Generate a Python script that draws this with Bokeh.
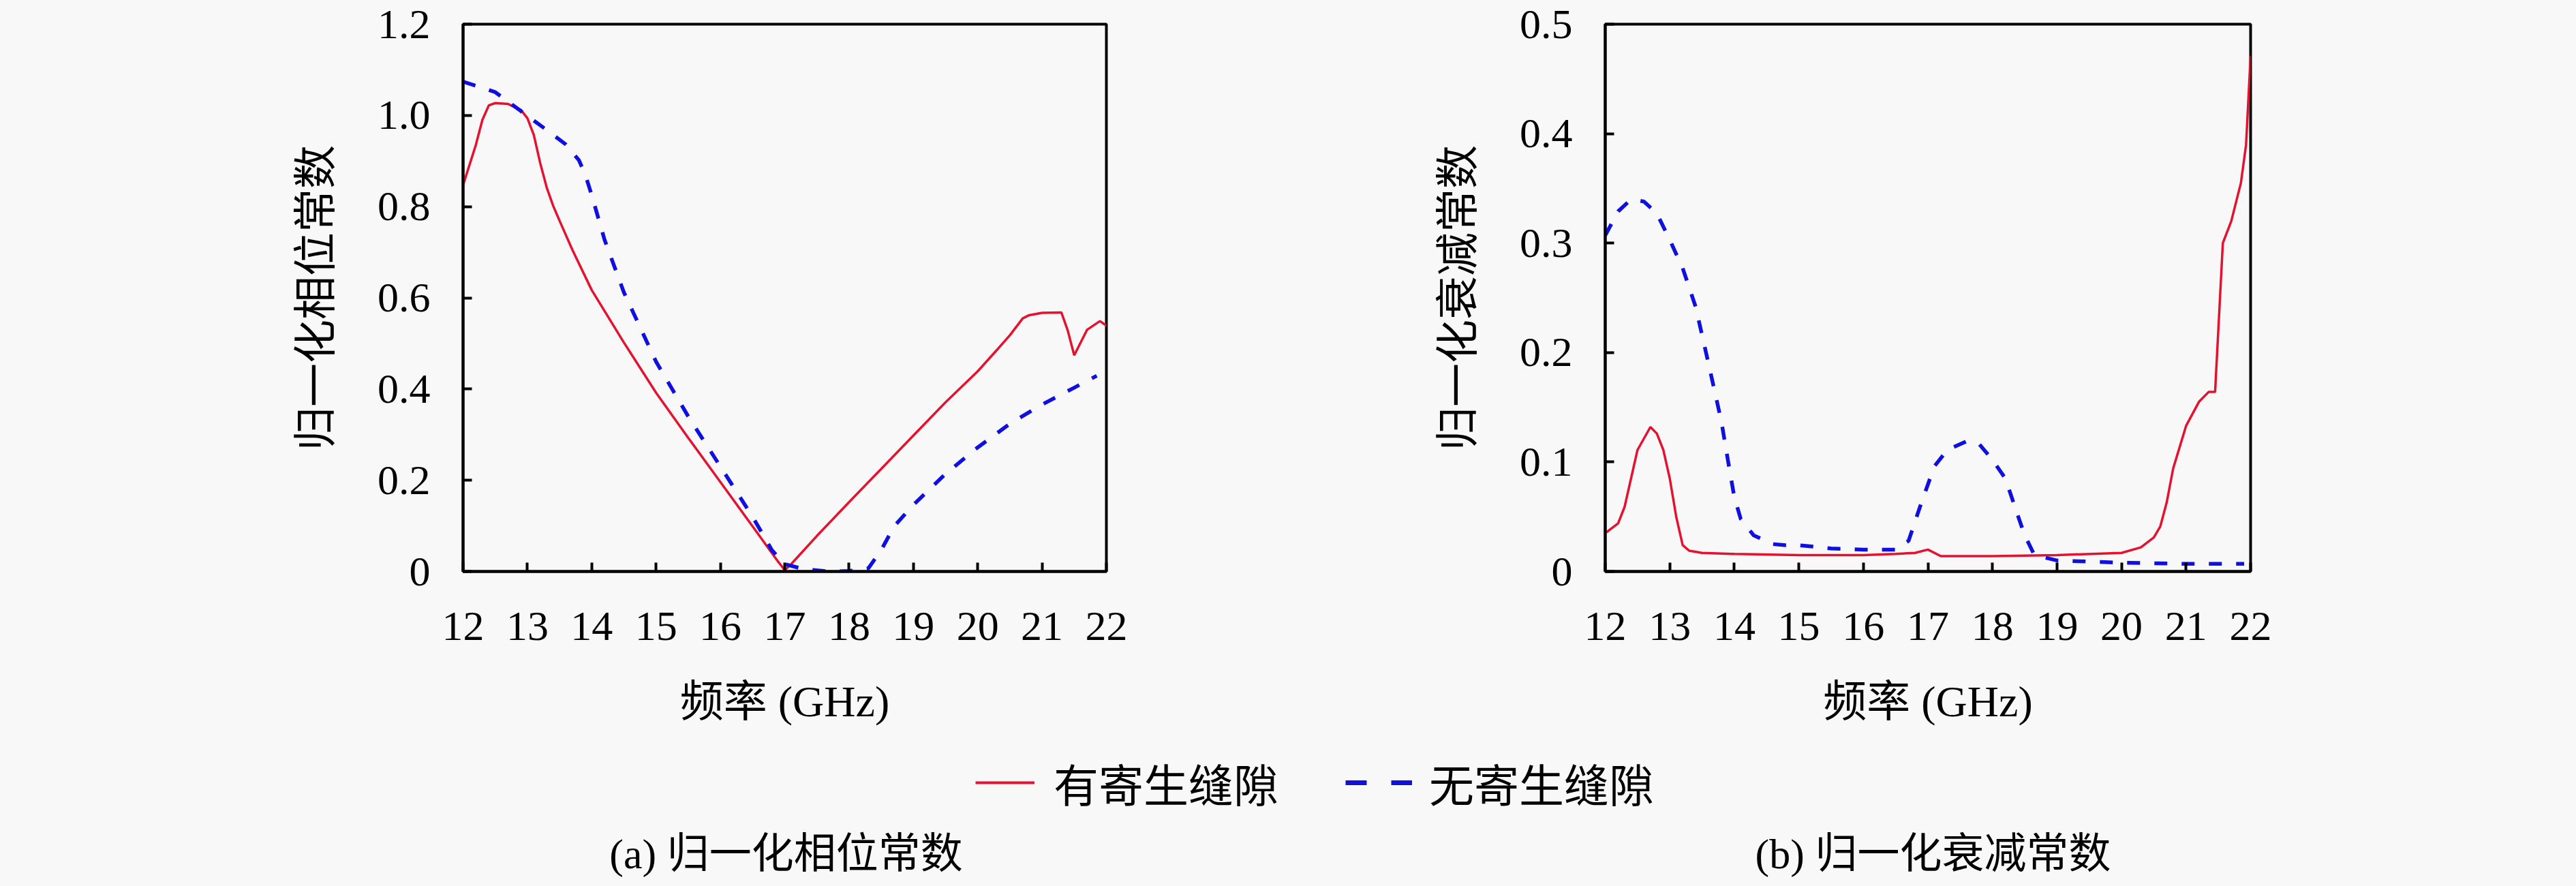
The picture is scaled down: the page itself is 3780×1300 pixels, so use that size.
from bokeh.plotting import figure
from bokeh.models import Range1d, FixedTicker, Legend, LegendItem
from bokeh.layouts import column, row
from bokeh.embed import file_html
from bokeh.resources import INLINE
from bokeh.core.properties import value

# ---------------- data ----------------
# (a) normalized phase constant
f_phase_gap = [12.0, 12.2, 12.3, 12.4, 12.5, 12.7, 12.9, 13.0, 13.1, 13.2, 13.3, 13.4, 13.5, 13.7, 14.0, 14.5,
               15.0, 15.5, 16.0, 16.5, 16.9, 17.0, 17.1, 17.5, 18.0, 18.5, 19.0, 19.5, 20.0,
               20.3, 20.5, 20.7, 20.8, 21.0, 21.3, 21.4, 21.5, 21.6, 21.7, 21.9, 22.0]
phase_gap = [0.847, 0.936, 0.99, 1.022, 1.027, 1.025, 1.012, 0.994, 0.957, 0.895, 0.842, 0.802, 0.769, 0.705, 0.617, 0.502,
             0.392, 0.293, 0.196, 0.099, 0.021, 0.003, 0.016, 0.078, 0.152, 0.225, 0.298, 0.371, 0.439,
             0.486, 0.518, 0.555, 0.562, 0.567, 0.568, 0.528, 0.474, 0.502, 0.53, 0.549, 0.539]

f_phase_nogap = [12.0, 12.5, 13.0, 13.3, 13.6, 13.8, 13.9, 14.0, 14.2, 14.5, 15.0, 15.5, 16.0, 16.5,
                 16.8, 17.0, 17.3, 17.7, 18.0, 18.3, 18.5, 18.7, 19.0, 19.5, 20.0, 20.5, 21.0,
                 21.5, 21.85]
phase_nogap = [1.074, 1.051, 0.999, 0.968, 0.936, 0.902, 0.870, 0.825, 0.727, 0.612, 0.46, 0.34, 0.23, 0.12,
               0.047, 0.016, 0.005, 0.0, 0.001, 0.007, 0.047, 0.099, 0.146, 0.214, 0.272, 0.324, 0.366,
               0.403, 0.429]

# (b) normalized attenuation constant
f_att_gap = [12.0, 12.2, 12.3, 12.5, 12.7, 12.8, 12.9, 13.0, 13.1, 13.2, 13.3, 13.5, 14.0, 15.0,
             16.0, 16.5, 16.8, 17.0, 17.2, 18.0, 19.0, 20.0, 20.3, 20.5, 20.6, 20.7, 20.8, 21.0,
             21.2, 21.35, 21.45, 21.57, 21.7, 21.85, 21.93, 22.0]
att_gap = [0.035, 0.044, 0.059, 0.111, 0.132, 0.126, 0.111, 0.085, 0.050, 0.024, 0.019, 0.017, 0.016, 0.015,
           0.015, 0.016, 0.017, 0.020, 0.014, 0.014, 0.015, 0.017, 0.022, 0.031, 0.041, 0.063, 0.094, 0.133,
           0.155, 0.164, 0.164, 0.300, 0.320, 0.355, 0.390, 0.471]

f_att_nogap = [12.0, 12.2, 12.4, 12.6, 12.8, 13.0, 13.2, 13.4, 13.6, 13.8, 13.9, 14.0, 14.1, 14.3,
               14.6, 14.8, 15.0, 15.5, 16.0, 16.5, 16.7, 16.9, 17.1, 17.3, 17.6, 17.8, 18.0, 18.2,
               18.4, 18.5, 18.65, 19.0, 19.5, 20.0, 21.0, 21.9]
att_nogap = [0.307, 0.329, 0.340, 0.338, 0.327, 0.303, 0.277, 0.242, 0.19, 0.137, 0.102, 0.068, 0.048, 0.033,
             0.025, 0.024, 0.024, 0.021, 0.020, 0.020, 0.028, 0.063, 0.096, 0.111, 0.119, 0.116, 0.102, 0.085,
             0.050, 0.033, 0.015, 0.010, 0.009, 0.008, 0.007, 0.007]

x_ticks = [12, 13, 14, 15, 16, 17, 18, 19, 20, 21, 22]
phase_ticks = [0, 0.2, 0.4, 0.6, 0.8, 1.0, 1.2]
phase_tick_labels = ["0", "0.2", "0.4", "0.6", "0.8", "1.0", "1.2"]
att_ticks = [0, 0.1, 0.2, 0.3, 0.4, 0.5]
att_tick_labels = ["0", "0.1", "0.2", "0.3", "0.4", "0.5"]

series_names = ["有寄生缝隙", "无寄生缝隙"]
x_title = "频率 (GHz)"
y_titles = ["归一化相位常数", "归一化衰减常数"]
captions = ["(a) 归一化相位常数", "(b) 归一化衰减常数"]

# ---------------- style ----------------
BG = "#F8F8F8"
RED = "#E5122F"
BLUE = "#0F0FE0"
SERIF = "Liberation Serif, Noto Sans CJK SC"
CJK = "Noto Sans CJK SC"

TOP_H = 1098          # page top margin removed, so the first row starts at y=0
BOT_H = 194
W1 = 1892
W2 = 3764 - W1
FRAME_TOP = 35
FRAME_BOTTOM = 838


def make_panel(width, mb_left, mb_right, y_max, yticks, ylabels, ytitle,
               fx_gap, y_gap, fx_nogap, y_nogap):
    p = figure(width=width, height=TOP_H, output_backend="svg", toolbar_location=None,
               x_range=Range1d(12, 22), y_range=Range1d(0, y_max),
               min_border_left=mb_left, min_border_right=mb_right,
               min_border_top=FRAME_TOP, min_border_bottom=TOP_H - FRAME_BOTTOM)
    p.background_fill_color = BG
    p.border_fill_color = BG
    p.grid.visible = False
    p.outline_line_color = "black"
    p.outline_line_width = 4
    p.outline_line_alpha = 1.0

    p.line(fx_gap, y_gap, line_color=RED, line_width=3.5)
    p.line(fx_nogap, y_nogap, line_color=BLUE, line_width=5.5, line_dash="19 21")

    for ax in (p.xaxis[0], p.yaxis[0]):
        ax.axis_line_color = "black"
        ax.axis_line_width = 4
        ax.major_tick_line_color = "black"
        ax.major_tick_line_width = 4
        ax.major_tick_in = 13
        ax.major_tick_out = 0
        ax.minor_tick_line_color = None
        ax.major_label_text_font = "Liberation Serif"
        ax.major_label_text_font_size = "62px"
        ax.major_label_text_color = "black"
        ax.axis_label_text_font = SERIF
        ax.axis_label_text_font_size = "64px"
        ax.axis_label_text_font_style = "normal"
        ax.axis_label_text_color = "black"

    p.xaxis.ticker = FixedTicker(ticks=x_ticks)
    p.xaxis.major_label_standoff = 60
    p.xaxis.axis_label = x_title
    p.xaxis.axis_label_standoff = 52

    p.yaxis.ticker = FixedTicker(ticks=yticks)
    p.yaxis.major_label_overrides = {t: l for t, l in zip(yticks, ylabels)}
    p.yaxis.major_label_standoff = 48
    p.yaxis.axis_label = ytitle
    p.yaxis.axis_label_standoff = 52
    return p


p1 = make_panel(W1, 679, W1 - 1623, 1.2, phase_ticks, phase_tick_labels, y_titles[0],
                f_phase_gap, phase_gap, f_phase_nogap, phase_nogap)
p2 = make_panel(W2, 463, W2 - 1410, 0.5, att_ticks, att_tick_labels, y_titles[1],
                f_att_gap, att_gap, f_att_nogap, att_nogap)

# bottom strip: legend + captions
p3 = figure(width=3764, height=BOT_H, output_backend="svg", toolbar_location=None,
            x_range=Range1d(0, 3764), y_range=Range1d(0, BOT_H),
            x_axis_type=None, y_axis_type=None,
            min_border_left=0, min_border_right=0, min_border_top=0, min_border_bottom=0)
p3.background_fill_color = BG
p3.border_fill_color = BG
p3.outline_line_color = None
p3.grid.visible = False

r_red = p3.line([float("nan")], [float("nan")], line_color=RED, line_width=4)
r_blue = p3.line([float("nan")], [float("nan")], line_color=BLUE, line_width=7, line_dash="31 36")

common = dict(orientation="horizontal", glyph_height=64, label_height=64, padding=0, margin=0,
              label_text_font=CJK, label_text_font_size="66px", label_text_color="black",
              border_line_color=None, background_fill_alpha=0.0)
legend_red = Legend(items=[LegendItem(label=series_names[0], renderers=[r_red])],
                    location=(1431, 96), glyph_width=87, label_standoff=28, **common)
legend_blue = Legend(items=[LegendItem(label=series_names[1], renderers=[r_blue])],
                     location=(1974, 96), glyph_width=98, label_standoff=25, **common)
p3.add_layout(legend_red)
p3.add_layout(legend_blue)

p3.text(x=[1153, 2836], y=[40, 40], text=captions, text_font=value(SERIF),
        text_font_size="62px", text_align="center", text_baseline="middle", text_color="black")

layout = column(row(p1, p2, spacing=0), p3, spacing=0)

html = file_html(layout, INLINE)
html = html.replace("<head>", "<head><style>html,body{background:#F8F8F8;padding:0}body{margin:0 8px 8px 8px}</style>", 1)
open("out.html", "w").write(html)
